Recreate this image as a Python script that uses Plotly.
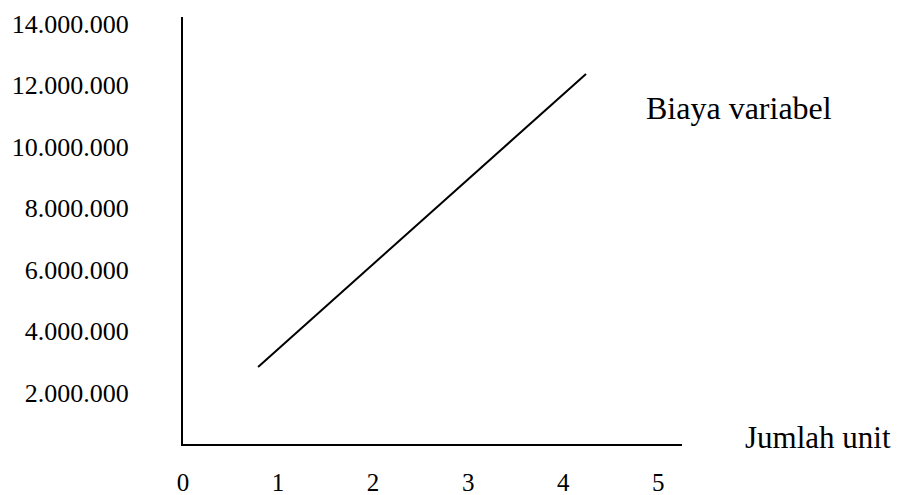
import plotly.graph_objects as go

# Data
units = [0.79, 4.24]                      # Jumlah unit (line endpoints)
biaya_variabel = [2830000, 12360000]     # Biaya variabel
x_ticks = [0, 1, 2, 3, 4, 5]
x_tick_labels = ["0", "1", "2", "3", "4", "5"]
y_ticks = [2000000, 4000000, 6000000, 8000000, 10000000, 12000000, 14000000]
y_tick_labels = ["2.000.000", "4.000.000", "6.000.000", "8.000.000",
                 "10.000.000", "12.000.000", "14.000.000"]

FONT = "Liberation Serif, Times New Roman, serif"

fig = go.Figure()
fig.add_trace(go.Scatter(
    x=units, y=biaya_variabel, mode="lines",
    line=dict(color="black", width=2), showlegend=False, hoverinfo="skip"))

# page body has an 8px default margin, so the figure is 8px smaller
fig.update_layout(
    width=891, height=487,
    margin=dict(l=175, r=217, t=9, b=51, autoexpand=False),
    paper_bgcolor="white", plot_bgcolor="white",
    font=dict(family=FONT, size=26, color="black"),
    annotations=[
        dict(text="Biaya variabel", xref="paper", yref="paper",
             x=0.924, y=0.788, xanchor="left", yanchor="middle",
             showarrow=False, font=dict(family=FONT, size=32, color="black")),
        dict(text="Jumlah unit", xref="paper", yref="paper",
             x=1.122, y=0.016, xanchor="left", yanchor="middle",
             showarrow=False, font=dict(family=FONT, size=31, color="black")),
    ],
)
fig.update_xaxes(
    range=[0, 5.25], tickvals=x_ticks, ticktext=x_tick_labels,
    showgrid=False, zeroline=False, showline=True, linecolor="black", linewidth=2,
    ticks="", ticklabelstandoff=15, automargin=False,
    tickfont=dict(family=FONT, size=25))
fig.update_yaxes(
    range=[325000, 14210000], tickvals=y_ticks, ticktext=y_tick_labels,
    showgrid=False, zeroline=False, showline=True, linecolor="black", linewidth=2,
    ticks="", ticklabelstandoff=47, automargin=False,
    tickfont=dict(family=FONT, size=26))

fig.write_html("out.html")
